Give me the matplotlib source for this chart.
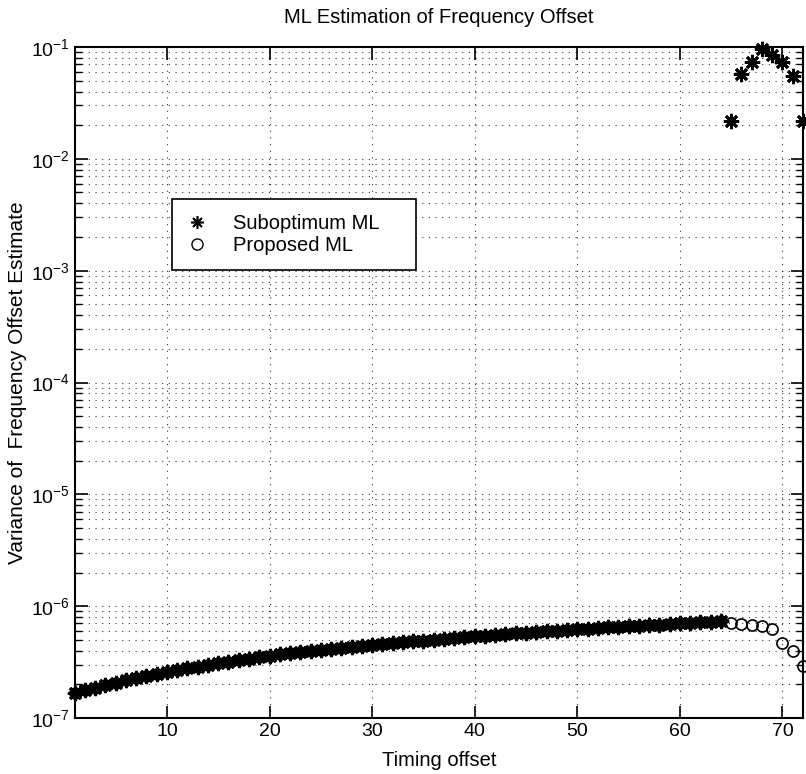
import matplotlib
matplotlib.use("Agg")
import matplotlib.pyplot as plt
from matplotlib.ticker import FixedLocator, NullFormatter, LogFormatterSciNotation

plt.rcParams['font.family'] = ['Liberation Sans', 'DejaVu Sans']
plt.rcParams['mathtext.fontset'] = 'custom'
plt.rcParams['mathtext.rm'] = 'Liberation Sans'
plt.rcParams['mathtext.it'] = 'Liberation Sans:italic'
plt.rcParams['mathtext.bf'] = 'Liberation Sans:bold'

# ---- data ----
timing_offset = list(range(1, 73))

# Proposed ML, units of 1e-7
proposed_e7 = [1.67, 1.77, 1.87, 1.97, 2.07, 2.17, 2.27, 2.38, 2.48, 2.58,
               2.68, 2.78, 2.88, 2.99, 3.09, 3.19, 3.29, 3.39, 3.49, 3.60,
               3.70, 3.80, 3.90, 3.99, 4.07, 4.16, 4.24, 4.33, 4.42, 4.50,
               4.59, 4.68, 4.76, 4.85, 4.93, 5.02, 5.11, 5.19, 5.28, 5.36,
               5.45, 5.53, 5.62, 5.71, 5.79, 5.88, 5.97, 6.05, 6.14, 6.22,
               6.31, 6.40, 6.47, 6.55, 6.62, 6.70, 6.77, 6.85, 6.92, 7.00,
               7.07, 7.15, 7.22, 7.30,
               7.05, 6.90, 6.75, 6.60, 6.20, 4.70, 4.00, 2.90]
proposed = [v * 1e-7 for v in proposed_e7]

# Suboptimum ML: equal to proposed up to 64, then large values
suboptimum_tail = [0.022, 0.057, 0.073, 0.096, 0.085, 0.073, 0.055, 0.022]
suboptimum = proposed[:64] + suboptimum_tail

x_ticks = [10, 20, 30, 40, 50, 60, 70]
y_decades = [1e-7, 1e-6, 1e-5, 1e-4, 1e-3, 1e-2, 1e-1]

title = "ML Estimation of Frequency Offset"
xlabel = "Timing offset"
ylabel = "Variance of  Frequency Offset Estimate"
legend_labels = ["Suboptimum ML", "Proposed ML"]

# ---- figure ----
W, H = 806, 774
fig = plt.figure(figsize=(W / 100, H / 100), dpi=100)
L, R, T, B = 74.6, 803, 47, 718
ax = fig.add_axes([L / W, 1 - B / H, (R - L) / W, (B - T) / H])

asterisk = (8, 2, 0)
h1, = ax.plot(timing_offset, suboptimum, linestyle='none', marker=asterisk,
              markersize=11, markeredgewidth=2.0, color='black', clip_on=False)
h2, = ax.plot(timing_offset, proposed, linestyle='none', marker='o',
              markersize=8, markeredgewidth=1.2, markerfacecolor='none',
              color='black', clip_on=False)

ax.set_yscale('log')
ax.set_xlim(1, 72)
ax.set_ylim(y_decades[0], y_decades[-1])
ax.xaxis.set_major_locator(FixedLocator(x_ticks))
ax.yaxis.set_major_locator(FixedLocator(y_decades))
ax.yaxis.set_major_formatter(LogFormatterSciNotation())
minor_y = [m * d for d in y_decades[:-1] for m in range(2, 10)]
ax.yaxis.set_minor_locator(FixedLocator(minor_y))
ax.yaxis.set_minor_formatter(NullFormatter())

grid_style = dict(color='black', linestyle=(0, (1, 5)), linewidth=0.8, alpha=0.8)
ax.grid(True, which='major', axis='both', **grid_style)
ax.grid(True, which='minor', axis='y', **grid_style)

ax.tick_params(which='both', direction='in', top=True, right=True,
               labelsize=14, colors='black')
ax.tick_params(which='major', length=9, width=1.2)
ax.tick_params(which='minor', length=5, width=1.0)
for s in ax.spines.values():
    s.set_linewidth(1.5)

ax.set_title(title, fontsize=14.5, pad=17)
ax.set_xlabel(xlabel, fontsize=14.5, labelpad=8)
ax.set_ylabel(ylabel, fontsize=15, labelpad=3)

lx0 = (172 - L) / (R - L)
ly1 = 1 - (199 - T) / (B - T)
lw = (416 - 172) / (R - L)
lh = (269 - 199) / (B - T)
leg = ax.legend([h1, h2], legend_labels, loc='upper left',
                bbox_to_anchor=(lx0, ly1 - lh, lw, lh), mode='expand',
                borderaxespad=0, fontsize=14.5, frameon=True, fancybox=False,
                edgecolor='black', framealpha=1, handlelength=1.0,
                handletextpad=1.3, labelspacing=0.15, borderpad=0.75)
leg.get_frame().set_linewidth(1.2)
leg.legend_handles[0].set_markersize(9)
leg.legend_handles[0].set_markeredgewidth(1.2)
leg.legend_handles[1].set_markersize(8)
leg.legend_handles[1].set_markeredgewidth(1.0)

fig.savefig('out.png', dpi=100)
